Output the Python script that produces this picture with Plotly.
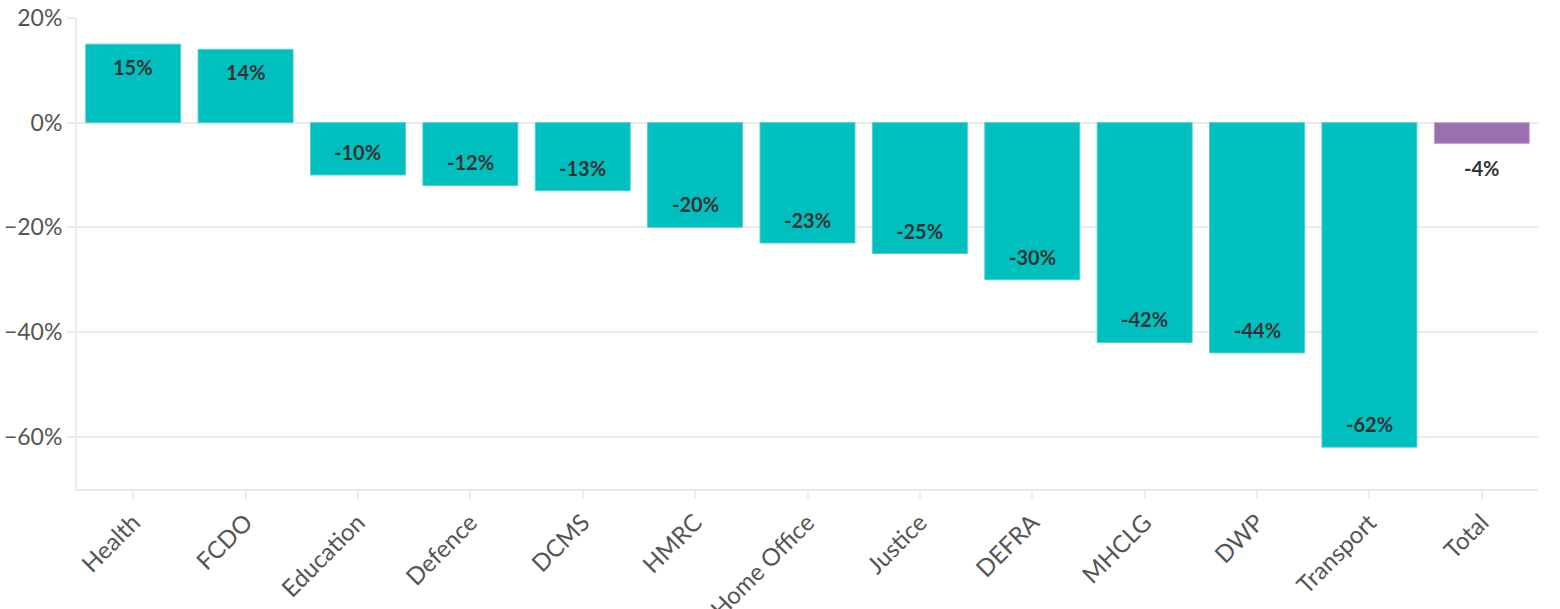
import plotly.graph_objects as go

categories = ["Health", "FCDO", "Education", "Defence", "DCMS", "HMRC", "Home Office",
              "Justice", "DEFRA", "MHCLG", "DWP", "Transport", "Total"]
values = [15, 14, -10, -12, -13, -20, -23, -25, -30, -42, -44, -62, -4]
labels = ["15%", "14%", "-10%", "-12%", "-13%", "-20%", "-23%", "-25%", "-30%",
          "-42%", "-44%", "-62%", "-4%"]
outside = [False] * 12 + [True]

teal = "#00BFBF"
purple = "#9B6FB0"
colors = [purple if c == "Total" else teal for c in categories]
lines = ["#C3A6D4" if c == "Total" else "#4DD2D2" for c in categories]

FONT = "Source Sans Pro, Lato, sans-serif"

fig = go.Figure()
fig.add_trace(go.Bar(
    x=categories, y=values,
    marker=dict(color=colors, line=dict(color=lines, width=1)),
    hoverinfo="x+y",
))

annotations = []
for c, v, t, o in zip(categories, values, labels, outside):
    sign = 1 if v >= 0 else -1
    shift = -23 * sign if not o else 24 * sign
    annotations.append(dict(
        x=c, y=v, text="<b>" + t + "</b>", showarrow=False, yshift=shift,
        font=dict(size=20, color="#333333", family=FONT),
        xanchor="center", yanchor="middle",
    ))

fig.update_layout(
    width=1560, height=609,
    margin=dict(l=77, r=22, t=18, b=120, autoexpand=False),
    paper_bgcolor="white", plot_bgcolor="white",
    font=dict(family=FONT, color="#555555", size=24),
    bargap=0.155,
    showlegend=False,
    annotations=annotations,
    xaxis=dict(
        tickangle=-45, showgrid=False, showline=True, linecolor="#EBEBEB", linewidth=2,
        ticks="outside", ticklen=8, tickcolor="#EBEBEB", tickwidth=2,
        tickfont=dict(size=24, color="#555555"), automargin=False,
    ),
    yaxis=dict(
        range=[-70, 20], dtick=20, ticksuffix="%", showgrid=True, gridcolor="#EBEBEB",
        gridwidth=2, zeroline=False, showline=True, linecolor="#EBEBEB", linewidth=2,
        ticks="outside", ticklen=8, tickcolor="#EBEBEB", tickwidth=2,
        tickfont=dict(size=23, color="#555555"), automargin=False,
    ),
)

fig.write_html(
    "out.html",
    config={"displayModeBar": False},
    post_script="document.body.style.margin='0';document.body.style.overflow='hidden';",
)
